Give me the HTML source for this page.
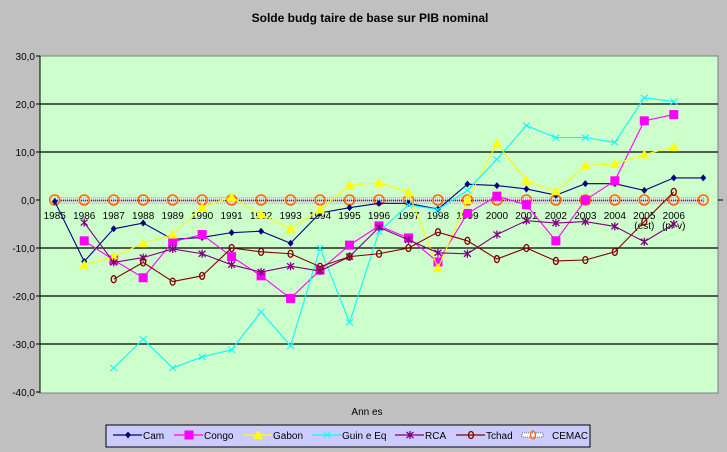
<!DOCTYPE html>
<html><head><meta charset="utf-8"><style>
html,body{margin:0;padding:0;background:#c0c0c0;}
svg{display:block;font-family:"Liberation Sans",Arial,sans-serif;}
</style></head><body>
<svg id="s" width="727" height="452" xmlns="http://www.w3.org/2000/svg">
<rect width="727" height="452" fill="#c0c0c0"/>
<text x="370" y="22" font-size="12" font-weight="bold" text-anchor="middle">Solde budg  taire de base sur PIB nominal</text>
<rect x="40" y="56" width="678" height="337" fill="#ccffcc" stroke="#808080" stroke-width="1"/>
<g id="grid"></g>
<g id="series"></g>
<text x="367" y="415" font-size="10" text-anchor="middle">Ann  es</text>
<rect x="106" y="425" width="484" height="22" fill="#ccccff" stroke="#000" stroke-width="1"/>
<g id="legend" font-size="10"></g>
</svg>
<script>
const NS="http://www.w3.org/2000/svg";
function el(t,a,p){const e=document.createElementNS(NS,t);for(const k in a)e.setAttribute(k,a[k]);p.appendChild(e);return e;}
const X=i=>40+29.478*(i+0.5), Y=v=>200-4.8*v;
const g=document.getElementById('grid');
for(let v=30;v>=-40;v-=10){const y=Y(v);
 if(v!==0&&v!==30&&v!==-40)el('line',{x1:40,x2:718,y1:y,y2:y,stroke:'#000','stroke-width':1.3},g);
 el('line',{x1:36,x2:40,y1:y,y2:y,stroke:'#000'},g);
 const t=el('text',{x:35,y:y+4,'font-size':10,'text-anchor':'end'},g);t.textContent=v.toFixed(1).replace('.',',');}
el('line',{x1:40,x2:40,y1:56,y2:393,stroke:'#000'},g);
for(let i=0;i<22;i++){const t=el('text',{x:X(i),y:219,'font-size':10,'text-anchor':'middle'},g);t.textContent=1985+i;}
let t=el('text',{x:X(20),y:229,'font-size':10,'text-anchor':'middle'},g);t.textContent='(est)';
t=el('text',{x:X(21),y:229,'font-size':10,'text-anchor':'middle'},g);t.textContent='(pr  v)';
const N=null;
const S=[
['Cam','#000080','dia',[-0.3,-12.8,-6,-4.8,-8.2,-7.8,-6.8,-6.5,-9,-2.7,-1.6,-0.7,-0.7,-1.9,3.3,3,2.3,1,3.4,3.4,2,4.6,4.6]],
['Congo','#ff00ff','sq',[N,-8.5,-12.5,-16.2,-8.7,-7.2,-11.8,-15.8,-20.5,-14.6,-9.4,-5.4,-7.9,-12.9,-2.8,0.8,-1,-8.5,0,4,16.5,17.8]],
['Gabon','#ffff00','tri',[N,-13.5,-11.8,-9,-7.2,-1.5,0.6,-3,-6,-2,3.1,3.6,1.6,-14.2,0,11.8,4,1.8,7.2,7.5,9.5,11]],
['Guin e Eq','#00ffff','x',[N,N,-35,-29,-35,-32.7,-31.2,-23.3,-30.4,-10,-25.5,-6.6,-1,-2,2,8.5,15.5,13,13,12,21.3,20.5]],
['RCA','#800080','star',[N,-4.7,-13,-12,-10.2,-11.2,-13.5,-15,-13.8,-14.8,-11.8,-5.7,-8.3,-11,-11.2,-7.2,-4.3,-4.8,-4.5,-5.5,-8.7,-5]],
['Tchad','#800000','circ',[N,N,-16.5,-13,-17,-15.8,-10,-10.8,-11.2,-13.9,-11.8,-11.2,-10,-6.7,-8.5,-12.3,-10,-12.7,-12.5,-10.8,-4.5,1.7]],
];
const sg=document.getElementById('series');
function mark(type,c,x,y,p){
 if(type==='dia')el('polygon',{points:`${x},${y-3.5} ${x+3},${y} ${x},${y+3.5} ${x-3},${y}`,fill:c},p);
 else if(type==='sq')el('rect',{x:x-4.5,y:y-4.5,width:9,height:9,fill:c},p);
 else if(type==='tri')el('polygon',{points:`${x},${y-5} ${x+5},${y+4} ${x-5},${y+4}`,fill:c},p);
 else if(type==='x'){el('path',{d:`M${x-3.5} ${y-3}L${x+3.5} ${y+3}M${x-3.5} ${y+3}L${x+3.5} ${y-3}`,stroke:c,'stroke-width':1},p);}
 else if(type==='star'){el('path',{d:`M${x-3.5} ${y-3}L${x+3.5} ${y+3}M${x-3.5} ${y+3}L${x+3.5} ${y-3}M${x} ${y-4}L${x} ${y+4}`,stroke:c,'stroke-width':1.3},p);}
 else if(type==='circ')el('ellipse',{cx:x,cy:y,rx:2.5,ry:3.5,fill:'none',stroke:c,'stroke-width':1.3},p);
 else if(type==='cem')el('circle',{cx:x,cy:y,r:5,fill:'none',stroke:'#ff6600','stroke-width':1.5},p);
}
// CEMAC line
el('rect',{x:X(0),y:198,width:X(22)-X(0),height:5,fill:'#fff',stroke:'#000','stroke-width':0.6,'stroke-dasharray':'1 1'},sg);
el('line',{x1:X(0),x2:X(22),y1:200.5,y2:200.5,stroke:'#000','stroke-width':2,'stroke-dasharray':'1 1'},sg);
el('line',{x1:718,x2:723,y1:200,y2:200,stroke:'#000'},sg);
for(let i=0;i<23;i++)mark('cem','',X(i),200,sg);
for(const [n,c,m,d] of S){
 const pts=[];d.forEach((v,i)=>{if(v!==null)pts.push([X(i),Y(v)]);});
 el('polyline',{points:pts.map(p=>p.join(',')).join(' '),fill:'none',stroke:c,'stroke-width':1.1},sg);
 pts.forEach(p=>mark(m,c,p[0],p[1],sg));
}
const lg=document.getElementById('legend');
const L=[['Cam','#000080','dia',113],['Congo','#ff00ff','sq',174],['Gabon','#ffff00','tri',243],['Guin e Eq','#00ffff','x',312],['RCA','#800080','star',395],['Tchad','#800000','circ',456],['CEMAC','#000','cem',522]];
for(const [n,c,m,x] of L){
 if(m==='cem'){el('rect',{x:x,y:433,width:21,height:4,fill:'#fff',stroke:'#000','stroke-width':0.6,'stroke-dasharray':'1 1'},lg);
  el('ellipse',{cx:x+11,cy:435,rx:2.5,ry:4,fill:'none',stroke:'#ff6600','stroke-width':1.3},lg);}
 else{el('line',{x1:x,x2:x+29,y1:435,y2:435,stroke:c,'stroke-width':1.2},lg);mark(m,c,x+15,435,lg);}
 const t=el('text',{x:x+30,y:439},lg);t.textContent=n;
}
</script>
</body></html>
